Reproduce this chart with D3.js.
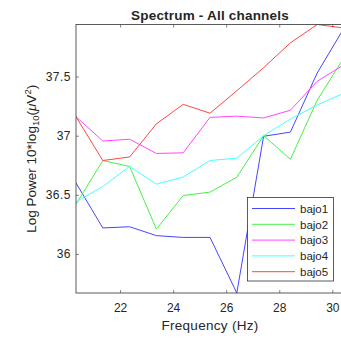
<!DOCTYPE html>
<html>
<head>
<meta charset="utf-8">
<script src="https://cdn.jsdelivr.net/npm/d3@7"></script>
<style>
  html, body { margin: 0; padding: 0; background: #fff; }
  svg { display: block; }
  text { font-family: "Liberation Sans", Arial, Helvetica, sans-serif; fill: #262626; }
</style>
</head>
<body>
<svg id="chart" width="341" height="338"></svg>
<script>
// Frequency bins (Hz)
const freqs = [20.34, 21.35, 22.36, 23.37, 24.38, 25.39, 26.40, 27.41, 28.42, 29.43, 30.44];

// Log power per channel, 10*log10(uV^2)
const bajo1 = [36.60, 36.22, 36.23, 36.155, 36.14, 36.14, 35.67, 36.995, 37.03, 37.53, 37.91];
const bajo2 = [36.42, 36.79, 36.74, 36.21, 36.494, 36.523, 36.649, 37.00, 36.80, 37.30, 37.66];
const bajo3 = [37.16, 36.955, 36.97, 36.85, 36.855, 37.155, 37.165, 37.15, 37.215, 37.46, 37.60];
const bajo4 = [36.44, 36.57, 36.74, 36.59, 36.65, 36.79, 36.81, 37.00, 37.14, 37.26, 37.36];
const bajo5 = [37.16, 36.79, 36.82, 37.10, 37.265, 37.19, 37.38, 37.575, 37.785, 37.94, 37.91];

const channelNames = ["bajo1", "bajo2", "bajo3", "bajo4", "bajo5"];
const channelColors = ["#4646ff", "#46f046", "#ff46ff", "#46ffff", "#ff4646"];
const channelValues = [bajo1, bajo2, bajo3, bajo4, bajo5];

const xTicks = [22, 24, 26, 28, 30];
const yTicks = [36, 36.5, 37, 37.5];

const titleText = "Spectrum - All channels";
const xLabelText = "Frequency (Hz)";

(function draw() {
  const svg = d3.select("#chart");
  const plotLeft = 76, plotRight = 344, plotTop = 24.5, plotBottom = 293;

  const allValues = channelValues.flat();
  const x = d3.scaleLinear().domain([freqs[0], freqs[freqs.length - 1]]).range([plotLeft, plotRight]);
  const y = d3.scaleLinear().domain(d3.extent(allValues)).range([plotBottom, plotTop]);

  svg.append("rect").attr("width", 341).attr("height", 338).attr("fill", "#fff");

  // clip for the plot area
  svg.append("defs").append("clipPath").attr("id", "plotclip")
    .append("rect").attr("x", plotLeft).attr("y", plotTop)
    .attr("width", plotRight - plotLeft).attr("height", plotBottom - plotTop);

  // data lines
  const line = d3.line().x((d, i) => x(freqs[i])).y(d => y(d));
  const plot = svg.append("g").attr("clip-path", "url(#plotclip)");
  channelValues.forEach((vals, k) => {
    plot.append("path")
      .datum(vals)
      .attr("d", line)
      .attr("fill", "none")
      .attr("stroke", channelColors[k])
      .attr("stroke-width", 1);
  });

  // axes (inward ticks, box)
  const axisColor = "#333";
  const tickLen = 3;
  const gx = svg.append("g").attr("transform", `translate(0,${plotBottom})`)
    .call(d3.axisBottom(x).tickValues(xTicks).tickSizeInner(-tickLen).tickSizeOuter(0)
      .tickPadding(10).tickFormat(d3.format("d")));
  gx.select(".domain").remove();
  gx.selectAll("line").attr("stroke", axisColor).attr("stroke-width", 0.6);
  gx.selectAll("text").attr("font-size", 12).attr("fill", "#262626")
    .attr("font-family", "Liberation Sans, Arial, sans-serif");

  const gxt = svg.append("g").attr("transform", `translate(0,${plotTop})`)
    .call(d3.axisTop(x).tickValues(xTicks).tickSizeInner(-tickLen).tickSizeOuter(0).tickFormat(""));
  gxt.select(".domain").remove();
  gxt.selectAll("line").attr("stroke", axisColor).attr("stroke-width", 0.6);

  const gy = svg.append("g").attr("transform", `translate(${plotLeft},0)`)
    .call(d3.axisLeft(y).tickValues(yTicks).tickSizeInner(-tickLen).tickSizeOuter(0)
      .tickPadding(5).tickFormat(d => String(d)));
  gy.select(".domain").remove();
  gy.selectAll("line").attr("stroke", axisColor).attr("stroke-width", 0.6);
  gy.selectAll("text").attr("font-size", 12).attr("fill", "#262626")
    .attr("letter-spacing", 0.5)
    .attr("font-family", "Liberation Sans, Arial, sans-serif");

  // axes box
  svg.append("rect")
    .attr("x", plotLeft).attr("y", plotTop)
    .attr("width", plotRight - plotLeft).attr("height", plotBottom - plotTop)
    .attr("fill", "none").attr("stroke", axisColor).attr("stroke-width", 0.8);

  // title
  svg.append("text")
    .attr("x", (plotLeft + plotRight) / 2).attr("y", 19.5)
    .attr("text-anchor", "middle")
    .attr("font-size", 13.5).attr("font-weight", "bold")
    .attr("letter-spacing", 0.2)
    .attr("fill", "#000")
    .text(titleText);

  // x label
  svg.append("text")
    .attr("x", (plotLeft + plotRight) / 2).attr("y", 329.5)
    .attr("text-anchor", "middle")
    .attr("font-size", 13.5)
    .attr("letter-spacing", 0.3)
    .text(xLabelText);

  // y label with subscript and superscript
  const yl = svg.append("text")
    .attr("transform", `translate(35.5,${(plotTop + plotBottom) / 2}) rotate(-90)`)
    .attr("text-anchor", "middle")
    .attr("font-size", 13.5);
  yl.append("tspan").text("Log Power 10*log");
  yl.append("tspan").attr("font-size", 9.5).attr("dy", 3).text("10");
  yl.append("tspan").attr("dy", -3).text("(");
  yl.append("tspan").attr("font-style", "italic").text("μ");
  yl.append("tspan").text("V");
  yl.append("tspan").attr("font-size", 9.5).attr("dy", -5).text("2");
  yl.append("tspan").attr("dy", 5).text(")");

  // legend
  const lg = svg.append("g");
  const lgX = 247.5, lgY = 197.5, lgW = 86, lgH = 83.5;
  lg.append("rect").attr("x", lgX).attr("y", lgY).attr("width", lgW).attr("height", lgH)
    .attr("fill", "#fff").attr("stroke", axisColor).attr("stroke-width", 0.8);
  channelNames.forEach((name, k) => {
    const cy = lgY + 11 + k * 15.8;
    lg.append("line")
      .attr("x1", lgX + 4.5).attr("x2", lgX + 47.5)
      .attr("y1", cy).attr("y2", cy)
      .attr("stroke", channelColors[k]).attr("stroke-width", 1);
    lg.append("text")
      .attr("x", lgX + 52.5).attr("y", cy + 4.2)
      .attr("font-size", 11.5)
      .text(name);
  });
})();
</script>
</body>
</html>
